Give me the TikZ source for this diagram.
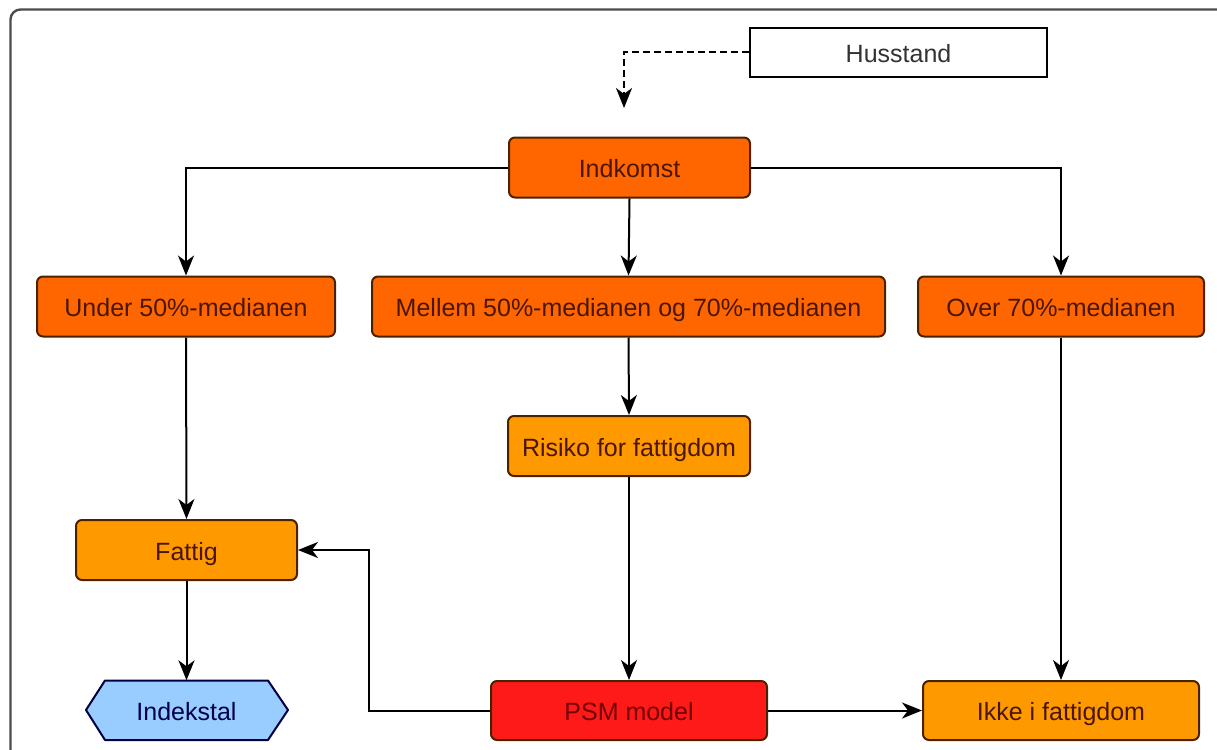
\documentclass[tikz,border=0pt]{standalone}
\usepackage{fontspec}
\setmainfont{Liberation Sans}
\usetikzlibrary{arrows.meta}
\definecolor{orred}{HTML}{FF6600}
\definecolor{orng}{HTML}{FF9900}
\definecolor{psmred}{HTML}{FF1A1A}
\definecolor{ltblue}{HTML}{99CCFF}
\definecolor{edgebrown}{HTML}{4A2200}
\definecolor{txtbrown}{HTML}{4A1600}
\begin{document}
\begin{tikzpicture}[x=1pt,y=-1pt,
  every node/.style={font=\fontsize{25}{29}\selectfont, inner sep=0pt, text height=25pt, text depth=5pt},
  box/.style={draw=edgebrown, line width=2pt, rounded corners=6pt, text=txtbrown},
  redbox/.style={box, fill=orred},
  orbox/.style={box, fill=orng},
  arr/.style={line width=2pt, -{Stealth[length=20pt,width=16pt,inset=6pt]}},
]
\useasboundingbox (0,0) rectangle (1217,749);
% outer frame
\draw[line width=2.4pt, draw=black!70, rounded corners=10pt] (10.5,780) -- (10.5,9.5) -- (1240,9.5);

% nodes
\node[draw=black, line width=2pt, fill=white, minimum width=297pt, minimum height=49pt, text=black!80] (hus) at (898.5,52.5) {Husstand};
\node[redbox, minimum width=241pt, minimum height=60pt] (ink) at (629.5,167.5) {Indkomst};
\node[redbox, minimum width=298pt, minimum height=60pt] (under) at (186,306.5) {Under 50\%-medianen};
\node[redbox, minimum width=513pt, minimum height=60pt] (mellem) at (628.5,306.5) {Mellem 50\%-medianen og 70\%-medianen};
\node[redbox, minimum width=286pt, minimum height=60pt] (over) at (1061,306.5) {Over 70\%-medianen};
\node[orbox, minimum width=242pt, minimum height=60pt] (risiko) at (629,446) {Risiko for fattigdom};
\node[orbox, minimum width=221pt, minimum height=60pt] (fattig) at (186.5,550) {Fattig};
\node[box, fill=psmred, text=red!45!black, minimum width=276pt, minimum height=59pt] (psm) at (629,710.5) {PSM model};
\node[orbox, minimum width=276pt, minimum height=59pt] (ikke) at (1061,710.5) {Ikke i fattigdom};
% hexagon
\draw[draw=black!75!blue, line width=2pt, fill=ltblue, line join=round]
  (86,710) -- (105,680.5) -- (268,680.5) -- (288,710) -- (268,740) -- (105,740) -- cycle;
\node[minimum width=163pt, minimum height=59.5pt, text=blue!30!black] (idx) at (186.5,710.25) {Indekstal};

% connectors
\coordinate (dashend) at (624,108);
\draw[arr, dashed, dash pattern=on 7pt off 4pt] (hus.west) -| (dashend);
\draw[arr] (ink.west) -| (under.north);
\draw[arr] (ink.south) -- (mellem.north);
\draw[arr] (ink.east) -| (over.north);
\draw[arr] (under.south) -- (fattig.north);
\draw[arr] (mellem.south) -- (risiko.north);
\draw[arr] (over.south) -- (ikke.north);
\draw[arr] (fattig.south) -- (idx.north);
\draw[arr] (risiko.south) -- (psm.north);
\coordinate (bend) at (368.5,710.5);
\draw[arr] (psm.west) -- (bend) |- (fattig.east);
\draw[arr] (psm.east) -- (ikke.west);
\end{tikzpicture}
\end{document}
